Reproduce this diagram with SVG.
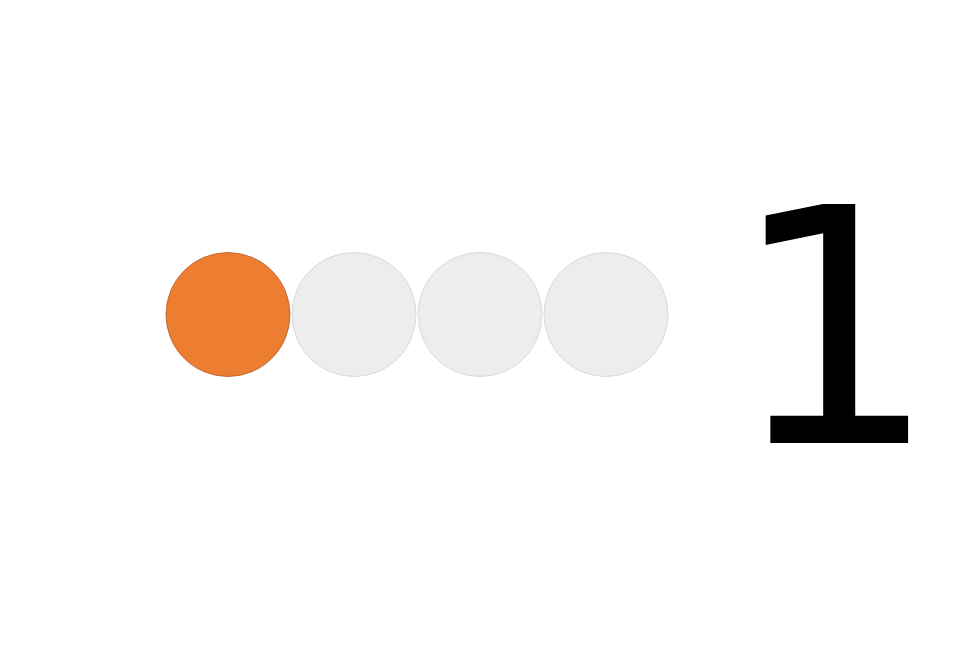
<svg xmlns="http://www.w3.org/2000/svg" width="960" height="672" viewBox="0 0 960 672">
  <style>
    .on { fill: #ed7d31; stroke: #ae5a21; stroke-width: 0.75; }
    .off { fill: #ededed; stroke: #d9d9d9; stroke-width: 1; }
    .num { font-family: "DejaVu Sans", sans-serif; font-size: 328px; fill: #000000; }
  </style>
  <rect width="960" height="672" fill="#ffffff"/>
  <g id="dot1"><circle class="on" cx="228" cy="314.5" r="62"/></g>
  <g id="dot2"><circle class="off" cx="354" cy="314.5" r="62"/></g>
  <g id="dot3"><circle class="off" cx="480" cy="314.5" r="62"/></g>
  <g id="dot4"><circle class="off" cx="606" cy="314.5" r="62"/></g>
  <g id="number"><text class="num" x="834" y="443" text-anchor="middle">1</text></g>
</svg>
